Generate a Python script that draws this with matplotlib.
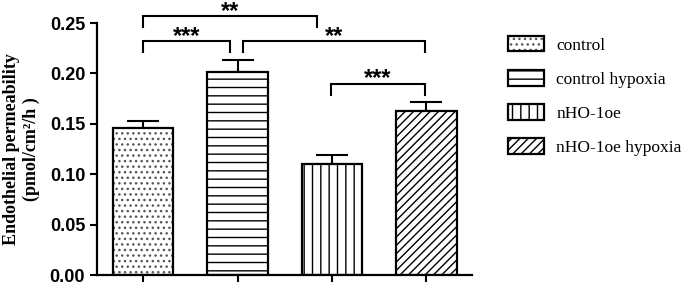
import matplotlib
matplotlib.use("Agg")
import matplotlib.pyplot as plt
from matplotlib.patches import Patch
from matplotlib.legend_handler import HandlerTuple

# data
groups = ["control", "control hypoxia", "nHO-1oe", "nHO-1oe hypoxia"]
means = [0.146, 0.201, 0.110, 0.163]
errors = [0.007, 0.012, 0.009, 0.009]
hatches = ["...", "--", "||", "////"]
hatch_colors = ["#555555", "black", "black", "black"]

# significance brackets: (x start, x end, bracket y, leg y, label)
brackets = [
    (0.0, 1.84, 0.257, 0.246, "**"),
    (0.0, 0.92, 0.232, 0.221, "***"),
    (1.06, 2.98, 0.232, 0.221, "**"),
    (1.99, 2.98, 0.190, 0.179, "***"),
]

plt.rcParams["hatch.linewidth"] = 1.0

fig = plt.figure(figsize=(6.85, 2.83), dpi=100)
ax = fig.add_axes([0.1416, 0.028, 0.547, 0.8905])

x = list(range(len(groups)))
for xi, m, h, hc in zip(x, means, hatches, hatch_colors):
    ax.bar(xi, m, width=0.64, color="white", edgecolor=hc, linewidth=0, hatch=h, zorder=2)
ax.bar(x, means, width=0.64, color="none", edgecolor="black", linewidth=1.6, zorder=3)
ax.errorbar(x, means, yerr=[[0] * len(errors), errors], fmt="none", ecolor="black",
            elinewidth=1.5, capsize=11.5, capthick=1.5, zorder=1)

for x0, x1, yb, yl, lab in brackets:
    ax.plot([x0, x0, x1, x1], [yl, yb, yb, yl], color="black", linewidth=1.5,
            clip_on=False, solid_joinstyle="miter")
    ax.annotate(lab, xy=((x0 + x1) / 2, yb), xytext=(0, -1.2), textcoords="offset points",
                ha="center", va="baseline", fontsize=17, fontweight="bold",
                family="Liberation Sans", annotation_clip=False)

ax.set_xlim(-0.49, 3.48)
ax.set_ylim(0, 0.25)
ax.set_xticks(x)
ax.set_xticklabels([])
ax.set_yticks([0.0, 0.05, 0.10, 0.15, 0.20, 0.25])
ax.set_yticklabels(["0.00", "0.05", "0.10", "0.15", "0.20", "0.25"])
for lbl in ax.get_yticklabels():
    lbl.set_fontfamily("Liberation Sans")
    lbl.set_fontweight("bold")
    lbl.set_fontsize(13)
ax.tick_params(direction="out", length=5, width=1.5)
ax.spines["top"].set_visible(False)
ax.spines["right"].set_visible(False)
ax.spines["left"].set_linewidth(1.6)
ax.spines["bottom"].set_linewidth(1.6)

ax.set_ylabel("Endothelial permeability\n(pmol/cm²/h )", family="Liberation Serif",
              fontweight="bold", fontsize=13, labelpad=7, linespacing=1.2)

handles = []
for h, hc in zip(hatches, hatch_colors):
    handles.append((Patch(facecolor="white", edgecolor=hc, linewidth=0, hatch=h),
                    Patch(facecolor="none", edgecolor="black", linewidth=1.6)))
fig.legend(handles, groups, loc="upper left", bbox_to_anchor=(0.7285, 0.904),
           frameon=False, prop={"family": "Liberation Serif", "size": 12.5},
           handler_map={tuple: HandlerTuple(ndivide=1, pad=0)}, borderpad=0,
           handlelength=2.1, handleheight=1.0, labelspacing=0.95, handletextpad=0.7)

fig.savefig("out.png", dpi=100)
